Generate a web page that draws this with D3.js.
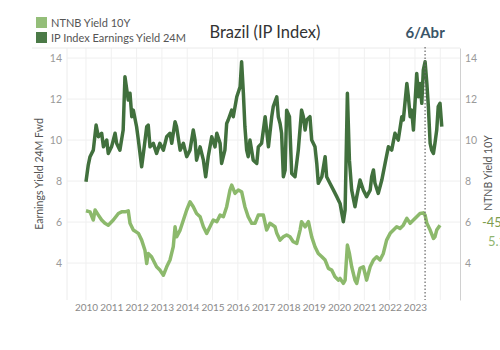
<!DOCTYPE html>
<html>
<head>
<meta charset="utf-8">
<script src="https://cdn.jsdelivr.net/npm/d3@7"></script>
<style>
  body { margin: 0; background: #fff; }
  svg { display: block; font-family: Lato, "Open Sans", sans-serif; }
</style>
</head>
<body>
<svg id="chart" width="500" height="350"></svg>
<script>
// IP Index earnings yield 24M fwd, [decimal year, %]
const earningsYield = [
  [2010.00, 7.97], [2010.09, 8.78], [2010.16, 9.19], [2010.29, 9.51], [2010.40, 10.73],
  [2010.49, 10.16], [2010.62, 10.33], [2010.69, 9.67], [2010.82, 10.0], [2010.88, 9.35],
  [2011.01, 9.67], [2011.15, 10.33], [2011.21, 9.84], [2011.34, 9.51], [2011.47, 10.49],
  [2011.54, 13.09], [2011.67, 11.95], [2011.74, 12.28], [2011.81, 11.14], [2011.87, 11.46],
  [2012.00, 10.65], [2012.07, 10.0], [2012.20, 8.70], [2012.27, 9.35], [2012.40, 10.65],
  [2012.46, 10.73], [2012.53, 9.67], [2012.66, 9.84], [2012.79, 9.35], [2012.92, 9.84],
  [2013.06, 9.51], [2013.19, 10.16], [2013.32, 10.33], [2013.39, 9.84], [2013.52, 10.89],
  [2013.58, 10.65], [2013.72, 9.51], [2013.85, 9.84], [2013.98, 9.19], [2014.11, 9.51],
  [2014.24, 10.49], [2014.31, 10.0], [2014.37, 9.02], [2014.51, 9.67], [2014.64, 9.02],
  [2014.73, 8.21], [2014.83, 9.19], [2014.97, 10.16], [2015.10, 9.67], [2015.17, 10.33],
  [2015.30, 9.84], [2015.36, 8.86], [2015.49, 9.51], [2015.56, 10.81], [2015.62, 10.98],
  [2015.76, 11.46], [2015.82, 11.14], [2015.96, 12.11], [2016.09, 12.60], [2016.15, 13.82],
  [2016.22, 12.28], [2016.28, 10.65], [2016.35, 9.51], [2016.41, 9.19], [2016.48, 10.0],
  [2016.61, 9.02], [2016.75, 8.86], [2016.81, 9.67], [2016.94, 9.84], [2017.08, 11.14],
  [2017.21, 9.67], [2017.34, 11.14], [2017.40, 11.63], [2017.54, 12.11], [2017.60, 11.14],
  [2017.67, 10.81], [2017.73, 10.33], [2017.80, 8.21], [2017.87, 8.54], [2017.93, 11.46],
  [2018.04, 11.14], [2018.13, 8.37], [2018.26, 8.21], [2018.39, 9.51], [2018.52, 11.46],
  [2018.59, 11.14], [2018.66, 10.49], [2018.72, 10.98], [2018.85, 11.14], [2018.92, 10.0],
  [2019.05, 9.67], [2019.12, 8.86], [2019.18, 7.89], [2019.32, 8.21], [2019.45, 9.19],
  [2019.51, 8.21], [2019.64, 7.89], [2019.78, 7.56], [2019.91, 7.24], [2020.04, 6.91],
  [2020.17, 6.02], [2020.24, 6.59], [2020.33, 12.28], [2020.41, 9.02], [2020.50, 7.56],
  [2020.63, 6.75], [2020.70, 7.24], [2020.83, 8.05], [2020.96, 7.56], [2021.09, 7.24],
  [2021.23, 7.56], [2021.29, 8.21], [2021.36, 8.54], [2021.42, 7.89], [2021.55, 7.40],
  [2021.69, 8.05], [2021.82, 8.86], [2021.95, 9.67], [2022.08, 9.51], [2022.21, 10.33],
  [2022.34, 10.0], [2022.48, 11.14], [2022.54, 10.98], [2022.68, 12.76], [2022.74, 12.11],
  [2022.81, 11.14], [2022.87, 11.46], [2022.94, 10.49], [2023.07, 13.25], [2023.14, 12.11],
  [2023.20, 12.76], [2023.27, 11.79], [2023.33, 13.41], [2023.40, 13.82], [2023.47, 12.76],
  [2023.53, 11.63], [2023.60, 9.84], [2023.66, 9.51], [2023.73, 9.35], [2023.79, 9.84],
  [2023.86, 10.49], [2023.92, 11.63], [2023.99, 11.79], [2024.06, 10.65]
];

// NTNB 10Y real yield, [decimal year, %]
const ntnbYield = [
  [2010.00, 6.55], [2010.16, 6.50], [2010.29, 6.10], [2010.36, 6.59], [2010.49, 6.34],
  [2010.62, 6.10], [2010.75, 5.94], [2010.88, 5.85], [2011.08, 6.10], [2011.28, 6.42],
  [2011.41, 6.50], [2011.54, 6.50], [2011.67, 6.55], [2011.74, 5.94], [2011.87, 5.61],
  [2012.07, 5.45], [2012.20, 5.12], [2012.33, 4.63], [2012.40, 3.98], [2012.46, 4.47],
  [2012.59, 4.31], [2012.79, 3.82], [2012.92, 3.66], [2013.06, 3.41], [2013.19, 3.82],
  [2013.32, 4.15], [2013.45, 4.80], [2013.52, 5.77], [2013.58, 5.28], [2013.72, 5.61],
  [2013.85, 6.10], [2013.98, 6.59], [2014.11, 6.99], [2014.24, 6.75], [2014.37, 6.42],
  [2014.51, 6.26], [2014.64, 5.77], [2014.77, 5.45], [2014.90, 5.77], [2015.03, 6.10],
  [2015.17, 6.02], [2015.30, 6.34], [2015.43, 6.26], [2015.56, 6.75], [2015.69, 7.56],
  [2015.76, 7.80], [2015.89, 7.40], [2016.02, 7.56], [2016.15, 7.48], [2016.28, 6.75],
  [2016.41, 6.26], [2016.55, 5.94], [2016.68, 5.94], [2016.81, 6.34], [2017.01, 6.34],
  [2017.14, 5.61], [2017.27, 5.94], [2017.47, 5.77], [2017.54, 5.45], [2017.67, 5.12],
  [2017.80, 5.28], [2017.93, 5.37], [2018.06, 5.28], [2018.19, 5.04], [2018.33, 4.96],
  [2018.46, 5.61], [2018.52, 6.02], [2018.66, 5.77], [2018.79, 6.02], [2018.92, 5.28],
  [2019.05, 4.80], [2019.18, 4.47], [2019.32, 4.31], [2019.45, 4.15], [2019.58, 3.74],
  [2019.71, 3.66], [2019.84, 3.33], [2019.97, 3.17], [2020.04, 3.25], [2020.17, 3.01],
  [2020.24, 3.17], [2020.33, 4.88], [2020.41, 4.47], [2020.50, 3.82], [2020.63, 3.17],
  [2020.70, 3.01], [2020.83, 3.74], [2020.96, 3.82], [2021.09, 3.17], [2021.23, 3.82],
  [2021.36, 4.15], [2021.49, 4.31], [2021.62, 4.15], [2021.75, 4.47], [2021.88, 5.12],
  [2022.02, 5.45], [2022.15, 5.61], [2022.28, 5.77], [2022.41, 5.69], [2022.54, 5.85],
  [2022.68, 6.18], [2022.81, 5.94], [2022.94, 6.10], [2023.07, 6.26], [2023.20, 6.42],
  [2023.33, 6.45], [2023.40, 6.34], [2023.47, 5.94], [2023.60, 5.61], [2023.73, 5.20],
  [2023.79, 5.28], [2023.86, 5.61], [2023.99, 5.85]
];

const yearTicks = d3.range(2010, 2024);     // labelled years
const yearGrid = d3.range(2010, 2025);      // vertical gridlines
const yTicks = [4, 6, 8, 10, 12, 14];
const markerYear = 2023.4;                  // dotted line "6/Abr"
const legendItems = ["NTNB Yield 10Y", "IP Index Earnings Yield 24M"];

const lightGreen = "#8cb96c", darkGreen = "#41703d";

const svg = d3.select("#chart");

const x = d3.scaleLinear().domain([2009.25, 2024.78]).range([67, 460]);
const y = d3.scaleLinear().domain([2.2, 14.49]).range([300, 48]);

// grid
svg.append("g")
  .selectAll("line")
  .data(yTicks)
  .join("line")
  .attr("x1", 67).attr("x2", 460)
  .attr("y1", d => y(d)).attr("y2", d => y(d))
  .attr("stroke", "#efefef");

svg.append("g")
  .selectAll("line")
  .data(yearGrid)
  .join("line")
  .attr("x1", d => x(d)).attr("x2", d => x(d))
  .attr("y1", 48).attr("y2", 300)
  .attr("stroke", "#f0f0f0");

svg.append("line")
  .attr("x1", 32).attr("x2", 460)
  .attr("y1", 48).attr("y2", 48)
  .attr("stroke", "#eaeaea");
svg.append("line")
  .attr("x1", 67).attr("x2", 67)
  .attr("y1", 48).attr("y2", 300)
  .attr("stroke", "#ececec");

// axes
const leftAxis = svg.append("g")
  .attr("transform", "translate(67,0)")
  .call(d3.axisLeft(y).tickValues(yTicks).tickSize(0).tickPadding(5));
leftAxis.select(".domain").remove();

const rightAxis = svg.append("g")
  .attr("transform", "translate(460,0)")
  .call(d3.axisRight(y).tickValues(yTicks).tickSize(0).tickPadding(5));
rightAxis.select(".domain").attr("stroke", "#d0d0d0");

const bottomAxis = svg.append("g")
  .attr("transform", "translate(0,300)")
  .call(d3.axisBottom(x).tickValues(yearTicks).tickFormat(d3.format("d")).tickSize(0).tickPadding(4));
bottomAxis.select(".domain").remove();

svg.selectAll(".tick text")
  .attr("fill", "#9a9a9a")
  .style("font-family", "Lato, 'Open Sans', sans-serif")
  .style("font-size", "10.5px");
bottomAxis.selectAll(".tick text").style("font-size", "10px").attr("fill", "#8a8a8a");

// series
const line = d3.line().x(d => x(d[0])).y(d => y(d[1]));

svg.append("path")
  .datum(ntnbYield)
  .attr("d", line)
  .attr("fill", "none")
  .attr("stroke", lightGreen)
  .attr("stroke-width", 3.5)
  .attr("stroke-linejoin", "round");

svg.append("path")
  .datum(earningsYield)
  .attr("d", line)
  .attr("fill", "none")
  .attr("stroke", darkGreen)
  .attr("stroke-width", 3.5)
  .attr("stroke-linejoin", "round");

// marker line
svg.append("line")
  .attr("x1", x(markerYear)).attr("x2", x(markerYear))
  .attr("y1", 47).attr("y2", 300)
  .attr("stroke", "#666")
  .attr("stroke-width", 1.2)
  .attr("stroke-dasharray", "1.5,2");

svg.append("text")
  .attr("x", x(markerYear)).attr("y", 38)
  .attr("text-anchor", "middle")
  .attr("fill", "#3b5568")
  .style("font-size", "15px")
  .style("font-weight", "bold")
  .text("6/Abr");

// title
svg.append("text")
  .attr("x", 265).attr("y", 38)
  .attr("text-anchor", "middle")
  .attr("fill", "#333")
  .style("font-size", "16.5px")
  .text("Brazil (IP Index)");

// legend
const legend = svg.append("g").attr("transform", "translate(36,17)");
legend.selectAll("rect")
  .data(legendItems)
  .join("rect")
  .attr("x", 0).attr("y", (d, i) => i * 15)
  .attr("width", 11).attr("height", 11)
  .attr("fill", (d, i) => i === 0 ? "#94be79" : "#4b7a47");
legend.selectAll("text")
  .data(legendItems)
  .join("text")
  .attr("x", 15).attr("y", (d, i) => i * 15 + 9.5)
  .attr("fill", "#555")
  .style("font-size", "11px")
  .text(d => d);

// axis titles
svg.append("text")
  .attr("transform", "translate(40,174) rotate(-90)")
  .attr("text-anchor", "middle")
  .attr("dominant-baseline", "middle")
  .attr("fill", "#555")
  .style("font-size", "10.5px")
  .text("Earnings Yield 24M Fwd");

svg.append("text")
  .attr("transform", "translate(489,173) rotate(-90)")
  .attr("text-anchor", "middle")
  .attr("dominant-baseline", "middle")
  .attr("fill", "#555")
  .style("font-size", "10.5px")
  .text("NTNB Yield 10Y");

// end labels (cut off by the frame, as in the source)
svg.append("text")
  .attr("x", 482).attr("y", 227)
  .attr("fill", "#7d9c4e")
  .style("font-size", "13px")
  .text("-45");
svg.append("text")
  .attr("x", 488).attr("y", 246)
  .attr("fill", "#8fb56f")
  .style("font-size", "13px")
  .text("5.1");
</script>
</body>
</html>
